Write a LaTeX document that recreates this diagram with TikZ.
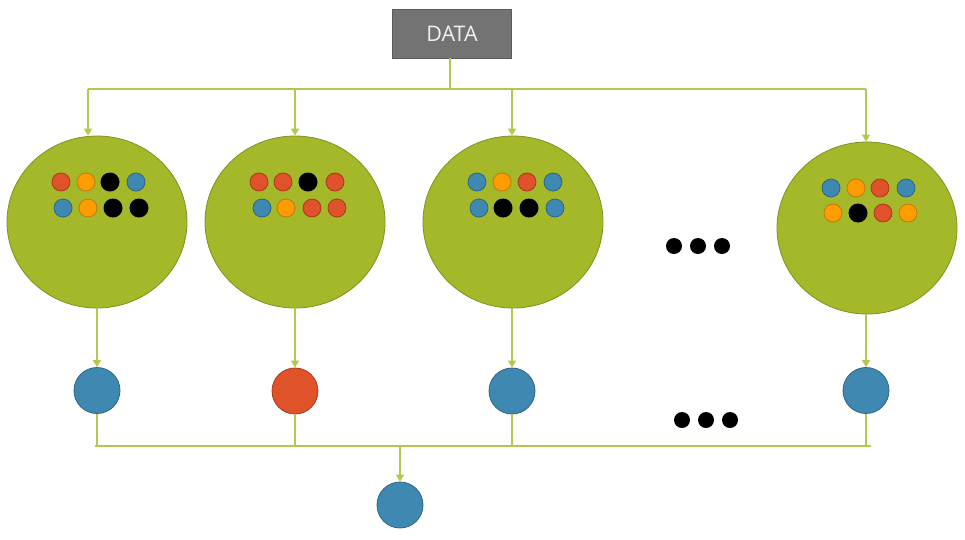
\documentclass[tikz,border=0pt]{standalone}
\usepackage{fontspec}
\setmainfont{Open Sans}
\usetikzlibrary{arrows.meta,shapes.geometric}
\definecolor{bigg}{HTML}{A5B82A}
\definecolor{bigd}{HTML}{7F9120}
\definecolor{lineg}{HTML}{B6C74E}
\definecolor{rd}{HTML}{E0522A}
\definecolor{rdd}{HTML}{A83A1C}
\definecolor{og}{HTML}{FF9C00}
\definecolor{ogd}{HTML}{C07A10}
\definecolor{bl}{HTML}{3F88B2}
\definecolor{bld}{HTML}{2E6486}
\definecolor{boxg}{HTML}{737373}
\definecolor{boxd}{HTML}{5A5A5A}
\tikzset{
  big/.style={ellipse, fill=bigg, draw=bigd, line width=0.8pt, minimum width=180pt, minimum height=172pt, inner sep=0pt},
  dotr/.style={circle, fill=rd, draw=rdd, line width=0.8pt, minimum size=18pt, inner sep=0pt},
  doto/.style={circle, fill=og, draw=ogd, line width=0.8pt, minimum size=18pt, inner sep=0pt},
  dotb/.style={circle, fill=bl, draw=bld, line width=0.8pt, minimum size=18pt, inner sep=0pt},
  dotk/.style={circle, fill=black, minimum size=19pt, inner sep=0pt},
  ell/.style={circle, fill=black, minimum size=16pt, inner sep=0pt},
  outb/.style={circle, fill=bl, draw=bld, line width=0.8pt, minimum size=46pt, inner sep=0pt},
  outr/.style={circle, fill=rd, draw=rdd, line width=0.8pt, minimum size=46pt, inner sep=0pt},
  conn/.style={draw=lineg, line width=2pt},
  arr/.style={conn, -{Triangle[width=8pt,length=7pt]}},
  databox/.style={rectangle, fill=boxg, draw=boxd, line width=0.8pt, minimum width=119pt, minimum height=49pt, inner sep=0pt, text=white!94!black, font=\fontsize{21.5}{24}\selectfont}
}
\begin{document}
\begin{tikzpicture}[x=1pt,y=-1pt]
\useasboundingbox (0,0) rectangle (965,539);
% DATA
\node[databox] (data) at (452,33.5) {DATA};
% big circles
\node[big] (c1) at (97,222) {};
\node[big] (c2) at (295,222) {};
\node[big] (c3) at (513,222) {};
\node[big] (c4) at (867,228) {};
% bus coordinates
\coordinate (stem) at (450,89);
\coordinate (t1) at (88,89);
\coordinate (t2) at (295,89);
\coordinate (t3) at (512,89);
\coordinate (t4) at (866,89);
\draw[conn] (data.south -| stem) -- (stem);
\draw[conn] (t1) -- (t4);
\draw[arr] (t1) -- (t1 |- c1.north);
\draw[arr] (t2) -- (t2 |- c2.north);
\draw[arr] (t3) -- (t3 |- c3.north);
\draw[arr] (t4) -- (t4 |- c4.north);
% dots circle 1
\node[dotr] (a1) at (61,182) {};
\node[doto] (a2) at (86,182) {};
\node[dotk] (a3) at (110,182) {};
\node[dotb] (a4) at (136,182) {};
\node[dotb] (a5) at (63,208) {};
\node[doto] (a6) at (88,208) {};
\node[dotk] (a7) at (113,208) {};
\node[dotk] (a8) at (139,208) {};
% dots circle 2
\node[dotr] (b1) at (259,182) {};
\node[dotr] (b2) at (283,182) {};
\node[dotk] (b3) at (308,182) {};
\node[dotr] (b4) at (335,182) {};
\node[dotb] (b5) at (262,208) {};
\node[doto] (b6) at (286,208) {};
\node[dotr] (b7) at (312,208) {};
\node[dotr] (b8) at (337,208) {};
% dots circle 3
\node[dotb] (d1) at (477,182) {};
\node[doto] (d2) at (502,182) {};
\node[dotr] (d3) at (527,182) {};
\node[dotb] (d4) at (553,182) {};
\node[dotb] (d5) at (479,208) {};
\node[dotk] (d6) at (503,208) {};
\node[dotk] (d7) at (529,208) {};
\node[dotb] (d8) at (555,208) {};
% dots circle 4
\node[dotb] (e1) at (831,188) {};
\node[doto] (e2) at (856,188) {};
\node[dotr] (e3) at (880,188) {};
\node[dotb] (e4) at (906,188) {};
\node[doto] (e5) at (833,213) {};
\node[dotk] (e6) at (858,213) {};
\node[dotr] (e7) at (883,213) {};
\node[doto] (e8) at (908,213) {};
% ellipses
\node[ell] (m1) at (674,246) {};
\node[ell] (m2) at (698,246) {};
\node[ell] (m3) at (722,246) {};
\node[ell] (n1) at (682,420) {};
\node[ell] (n2) at (706,420) {};
\node[ell] (n3) at (730,420) {};
% outputs
\node[outb] (o1) at (97,390.5) {};
\node[outr] (o2) at (295,391) {};
\node[outb] (o3) at (512,391) {};
\node[outb] (o4) at (866,390.5) {};
\draw[arr] (c1.south -| o1) -- (o1.north);
\draw[arr] (c2.south -| o2) -- (o2.north);
\draw[arr] (c3.south -| o3) -- (o3.north);
\draw[arr] (c4.south -| o4) -- (o4.north);
% bottom bus
\coordinate (bl) at (95,446);
\coordinate (br) at (871,446);
\coordinate (bj) at (400,446);
\draw[conn] (bl) -- (br);
\draw[conn] (o1.south) -- (o1.south |- bl);
\draw[conn] (o2.south) -- (o2.south |- bl);
\draw[conn] (o3.south) -- (o3.south |- bl);
\draw[conn] (o4.south) -- (o4.south |- bl);
\node[outb] (fin) at (400,505) {};
\draw[arr] (bj) -- (fin.north);
\end{tikzpicture}
\end{document}
